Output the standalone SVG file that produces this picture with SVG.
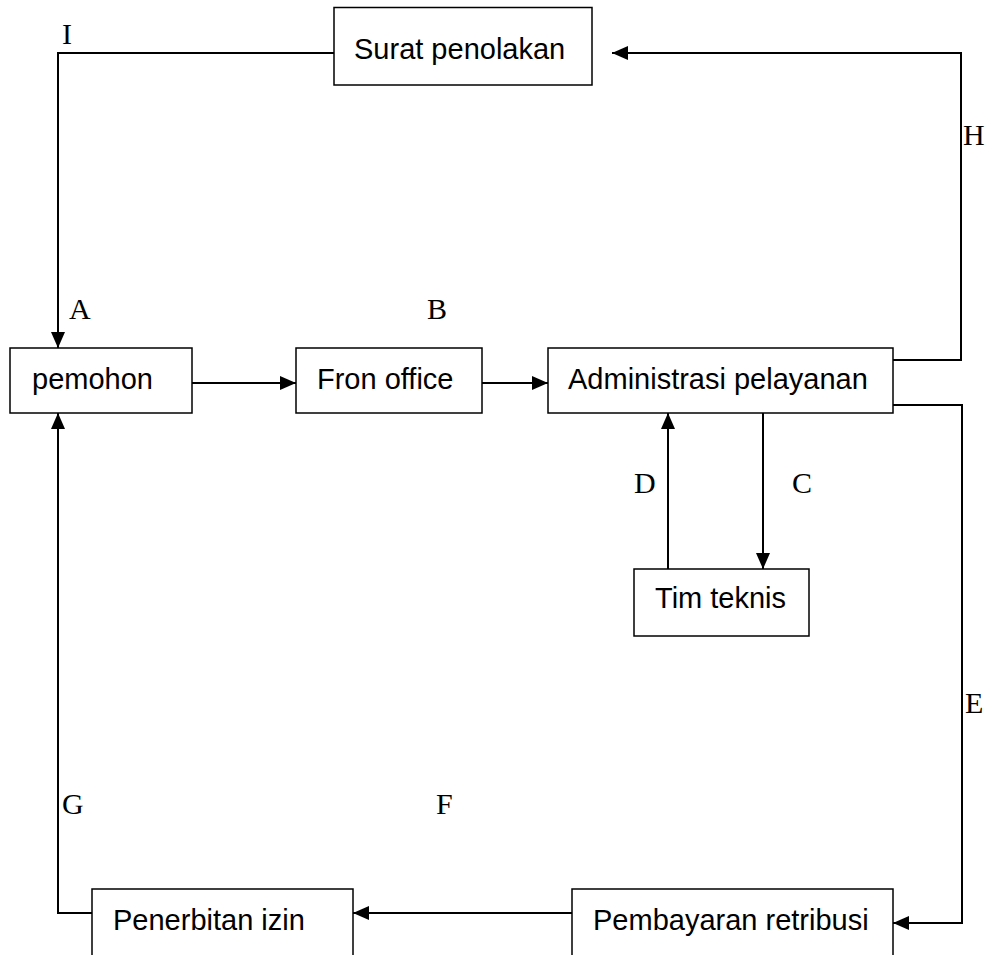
<svg xmlns="http://www.w3.org/2000/svg" width="991" height="955" viewBox="0 0 991 955">
<style>
.box{fill:#fff;stroke:#000;stroke-width:1.5}
.lbl{font-family:"Liberation Sans",Arial,sans-serif;font-size:29px;fill:#000}
.ltr{font-family:"Liberation Serif","Times New Roman",serif;font-size:30px;fill:#000}
.con{fill:none;stroke:#000;stroke-width:2}
</style>
<defs>
<marker id="arr" markerUnits="userSpaceOnUse" viewBox="0 0 16 14" markerWidth="16" markerHeight="14" refX="16" refY="7" orient="auto" overflow="visible">
<path d="M0,0 L16,7 L0,14 z" fill="#000"/>
</marker>
</defs>
<rect width="991" height="955" fill="#fff"/>
<g id="connectors">
<path class="con" d="M334,53 H58 V348" marker-end="url(#arr)"/>
<path class="con" d="M192,383 H296" marker-end="url(#arr)"/>
<path class="con" d="M482,383 H548" marker-end="url(#arr)"/>
<path class="con" d="M893,360 H961 V53 H612" marker-end="url(#arr)"/>
<path class="con" d="M893,405 H962 V923 H893" marker-end="url(#arr)"/>
<path class="con" d="M763,413 V569" marker-end="url(#arr)"/>
<path class="con" d="M668,569 V413" marker-end="url(#arr)"/>
<path class="con" d="M572,913 H353" marker-end="url(#arr)"/>
<path class="con" d="M92,913 H58 V413" marker-end="url(#arr)"/>
</g>
<g id="labels">
<text class="ltr" x="62" y="44">I</text>
<text class="ltr" x="69" y="319">A</text>
<text class="ltr" x="427" y="319">B</text>
<text class="ltr" x="792" y="493">C</text>
<text class="ltr" x="634" y="493">D</text>
<text class="ltr" x="965" y="713">E</text>
<text class="ltr" x="436" y="814">F</text>
<text class="ltr" x="62" y="814">G</text>
<text class="ltr" x="963" y="145">H</text>
</g>
<g id="surat">
<rect class="box" x="334" y="7.5" width="258" height="77.5"/>
<text class="lbl" x="354" y="59">Surat penolakan</text>
</g>
<g id="pemohon">
<rect class="box" x="10" y="348" width="182" height="65"/>
<text class="lbl" x="32" y="389">pemohon</text>
</g>
<g id="fron">
<rect class="box" x="296" y="348" width="186" height="65"/>
<text class="lbl" x="317" y="389">Fron office</text>
</g>
<g id="admin">
<rect class="box" x="548" y="348" width="345" height="65"/>
<text class="lbl" x="568" y="389">Administrasi pelayanan</text>
</g>
<g id="tim">
<rect class="box" x="634" y="569" width="175" height="67"/>
<text class="lbl" x="655" y="608">Tim teknis</text>
</g>
<g id="penerbitan">
<rect class="box" x="92" y="889" width="261" height="80"/>
<text class="lbl" x="113" y="930">Penerbitan izin</text>
</g>
<g id="pembayaran">
<rect class="box" x="572" y="889" width="321" height="80"/>
<text class="lbl" x="593" y="930">Pembayaran retribusi</text>
</g>
</svg>
